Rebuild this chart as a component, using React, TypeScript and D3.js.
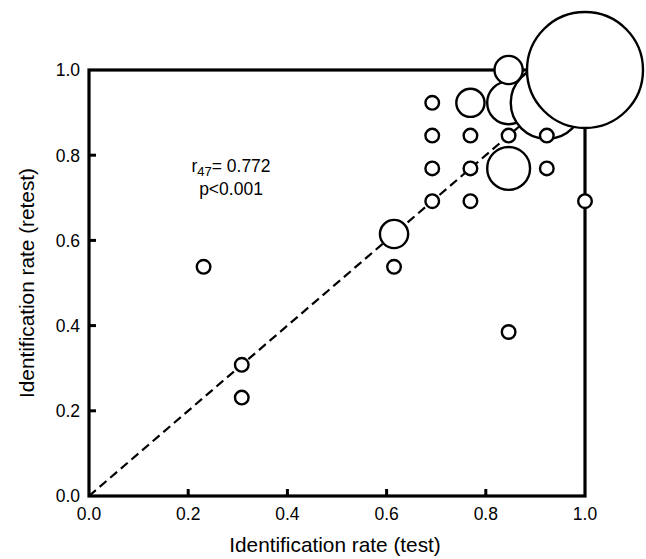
import React from "react";
import * as d3 from "d3";

const testRate = [1.0, 0.846, 0.923, 0.846, 0.846, 0.769, 0.615, 0.692, 0.692, 0.769, 0.846, 0.923, 0.692, 0.769, 0.923, 0.692, 0.769, 1.0, 0.615, 0.231, 0.846, 0.308, 0.308];
const retestRate = [1.0, 0.769, 0.923, 0.923, 1.0, 0.923, 0.615, 0.923, 0.846, 0.846, 0.846, 0.846, 0.769, 0.769, 0.769, 0.692, 0.692, 0.692, 0.538, 0.538, 0.385, 0.308, 0.231];
const counts = [8, 3, 5, 3, 2, 2, 2, 1, 1, 1, 1, 1, 1, 1, 1, 1, 1, 1, 1, 1, 1, 1, 1];
const tickValues = [0, 0.2, 0.4, 0.6, 0.8, 1.0];

// draw order: large ones ascending-ish, small on top
const drawOrder = [1, 3, 2, 0, 4, 5, 6, 7, 8, 9, 10, 11, 12, 13, 14, 15, 16, 17, 18, 19, 20, 21, 22];

export default function App() {
  const W = 646, H = 559;
  const left = 89, right = 585, top = 70, bottom = 496;
  const x = d3.scaleLinear().domain([0, 1]).range([left, right]);
  const y = d3.scaleLinear().domain([0, 1]).range([bottom, top]);
  const r = d3.scaleLinear().domain([1, 8]).range([6.8, 58]);
  const font = "Liberation Sans, Arial, sans-serif";

  return (
    <svg width={W} height={H} style={{ position: "absolute", left: 0, top: 0 }} fontFamily={font}>
      <rect width={W} height={H} fill="white" />
      {/* identity line */}
      <line x1={x(0)} y1={y(0)} x2={x(1)} y2={y(1)} stroke="black" strokeWidth={2.2} strokeDasharray="9,5" />
      {/* frame */}
      <rect x={left} y={top} width={right - left} height={bottom - top} fill="none" stroke="black" strokeWidth={3.2} />
      {/* ticks */}
      {tickValues.slice(1, -1).map((t) => (
        <line key={"xt" + t} x1={x(t)} x2={x(t)} y1={bottom} y2={bottom - 7} stroke="black" strokeWidth={3} />
      ))}
      {tickValues.slice(1, -1).map((t) => (
        <line key={"yt" + t} x1={left} x2={left + 7} y1={y(t)} y2={y(t)} stroke="black" strokeWidth={3} />
      ))}
      {tickValues.map((t) => (
        <text key={"xl" + t} x={x(t)} y={520} textAnchor="middle" fontSize={17.5}>
          {t.toFixed(1)}
        </text>
      ))}
      {tickValues.map((t) => (
        <text key={"yl" + t} x={80} y={y(t) + 6.3} textAnchor="end" fontSize={17.5}>
          {t.toFixed(1)}
        </text>
      ))}
      {/* points */}
      {drawOrder.map((i) => (
        <circle key={"c" + i} cx={x(testRate[i])} cy={y(retestRate[i])} r={r(counts[i])} fill="white" stroke="black" strokeWidth={2.4} />
      ))}
      {/* annotation */}
      <text x={231} y={172} textAnchor="middle" fontSize={17.5}>
        <tspan>r</tspan>
        <tspan fontSize={13} dy={4}>47</tspan>
        <tspan dy={-4}>= 0.772</tspan>
      </text>
      <text x={231} y={195} textAnchor="middle" fontSize={17.5}>p&lt;0.001</text>
      {/* axis titles */}
      <text x={335} y={552} textAnchor="middle" fontSize={20.8}>Identification rate (test)</text>
      <text transform={`translate(34,${(top + bottom) / 2}) rotate(-90)`} textAnchor="middle" fontSize={20.8}>
        Identification rate (retest)
      </text>
    </svg>
  );
}
